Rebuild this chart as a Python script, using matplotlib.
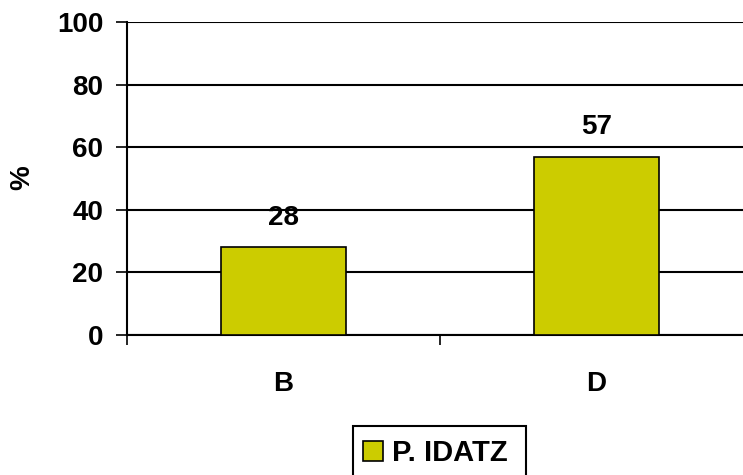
import matplotlib.pyplot as plt
from matplotlib.patches import Patch, Rectangle

categories = ["B", "D"]
values = [28, 57]
series_name = "P. IDATZ"
y_ticks = [0, 20, 40, 60, 80, 100]

_BAR = "#CCCC00"
_FS = 20

plt.rcParams["font.family"] = ["Liberation Sans", "DejaVu Sans"]
plt.rcParams["font.weight"] = "bold"

W, H = 743, 475
fig = plt.figure(figsize=(W / 100, H / 100), dpi=100)
# axes extends slightly past the right edge, like the original
ax = fig.add_axes([127 / W, 1 - 335 / H, 626 / W, 313 / H])

x = list(range(len(categories)))
ax.bar(x, values, width=0.4, color=_BAR, edgecolor="black", linewidth=1.2,
       zorder=3, label=series_name)
for xi, v in zip(x, values):
    ax.text(xi, v + 9.5, f"{v}", ha="center", va="center", fontsize=_FS,
            fontweight="bold")

ax.set_xlim(-0.5, len(categories) - 0.5)
ax.set_ylim(0, 100)
ax.set_yticks(y_ticks)
ax.set_yticklabels([str(t) for t in y_ticks], fontsize=_FS, fontweight="bold")
ax.set_xticks([-0.5, 0.5, 1.5])
ax.set_xticklabels([])
ax.tick_params(axis="x", length=7, width=1.2, direction="out")
ax.tick_params(axis="y", length=8, width=1.2, direction="out", pad=9)
for xi, c in zip(x, categories):
    ax.text(xi, -15.8, c, ha="center", va="center", fontsize=_FS,
            fontweight="bold")

ax.yaxis.grid(True, color="black", linewidth=1.5, zorder=0)
ax.set_axisbelow(True)
for s in ["top", "right"]:
    ax.spines[s].set_visible(False)
ax.spines["left"].set_linewidth(1.5)
ax.spines["bottom"].set_linewidth(1.5)
fig.text(22 / W, 1 - 178 / H, "%", rotation=90, ha="center",
         va="center", fontsize=_FS, fontweight="bold")

# legend box runs off the bottom edge in the original
fig.patches.append(Rectangle((353 / W, -0.05), (526 - 353) / W,
                             0.05 + 1 - 426 / H, transform=fig.transFigure,
                             facecolor="white", edgecolor="black",
                             linewidth=1.5, zorder=1))
handle = Patch(facecolor=_BAR, edgecolor="black", linewidth=1.2)
leg = fig.legend([handle], [series_name], loc="center left",
                 bbox_to_anchor=(363 / W, 1 - 453 / H), fontsize=21,
                 frameon=False, handlelength=0.68, handleheight=0.68,
                 handletextpad=0.3, borderpad=0, borderaxespad=0)
leg.set_zorder(2)
for t in leg.get_texts():
    t.set_fontweight("bold")

fig.savefig("out.png", dpi=100)
